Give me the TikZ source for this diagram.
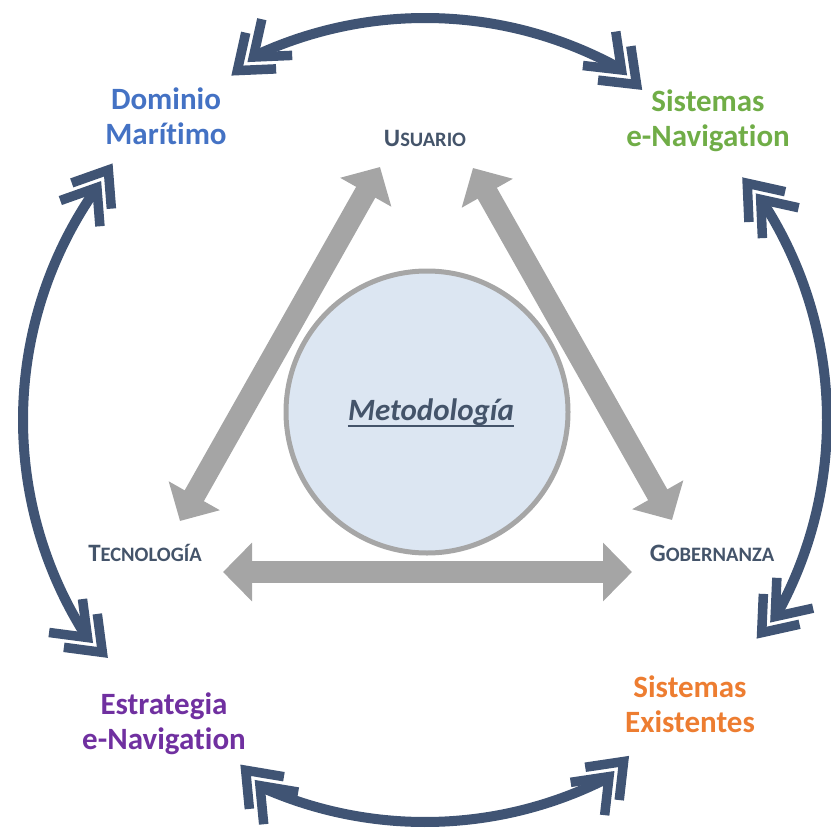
\documentclass[tikz,border=0pt]{standalone}
\usepackage{fontspec}
\setmainfont[Ligatures=CommonOff]{Carlito}
\usetikzlibrary{calc,arrows.meta}

\definecolor{slate}{HTML}{405474}
\definecolor{textgray}{HTML}{44546A}
\definecolor{arrowgray}{HTML}{A5A5A5}
\definecolor{ringgray}{HTML}{A6A6A6}
\definecolor{discfill}{HTML}{DCE6F2}
\definecolor{dblue}{HTML}{4472C4}
\definecolor{dgreen}{HTML}{70AD47}
\definecolor{dorange}{HTML}{ED7D31}
\definecolor{dpurple}{HTML}{7030A0}

% faked small capitals: large initial, smaller upper-case rest
\newcommand{\fakesc}[2]{{\fontsize{25}{28}\selectfont #1}{\fontsize{20.5}{24}\selectfont #2}}

% chevron geometry: half opening angle, arm length, arm thickness
\def\chB{37.5}
\def\chL{45}
\def\chT{9.5}
% one filled chevron with outer apex #1 pointing in direction #2
\newcommand{\chevshape}[2]{%
  \path (#1) coordinate (cvP);
  \fill[slate] (cvP)
    -- ($(cvP)+({#2+180-\chB}:\chL)$)
    -- ($(cvP)+({#2+180-\chB}:\chL)+({#2+270-\chB}:\chT)$)
    -- ($(cvP)+({#2+180}:{\chT/sin(\chB)})$)
    -- ($(cvP)+({#2+180+\chB}:\chL)+({#2+90+\chB}:\chT)$)
    -- ($(cvP)+({#2+180+\chB}:\chL)$)
    -- cycle;}
% double chevron head at the end #1 of a curved arrow, pointing in direction #2
\newcommand{\chevpair}[2]{%
  \chevshape{$(#1)+(#2:31)$}{#2}%
  \chevshape{$(#1)+(#2:10)$}{#2}}

\tikzset{
  outerlabel/.style={font=\bfseries\fontsize{31}{35}\selectfont, align=center, inner sep=0pt},
  innerlabel/.style={font=\bfseries, text=textgray, inner sep=0pt},
  grayarrow/.style={draw=arrowgray, line width=22pt,
    arrows={Triangle[width=57pt,length=29pt]-Triangle[width=57pt,length=29pt]}},
  cyclearc/.style={draw=slate, line width=10pt},
}

\begin{document}
\begin{tikzpicture}[x=1pt,y=-1pt]
\useasboundingbox (0,0) rectangle (830,832);

% centre of the outer cycle
\coordinate (C) at (425,420);
\def\R{402}

% ends of the four curved arrows
\coordinate (topL) at ($(C)+(-115:\R)$);
\coordinate (topR) at ($(C)+(-61:\R)$);
\coordinate (rgtT) at ($(C)+(-33:\R)$);
\coordinate (rgtB) at ($(C)+(29:\R)$);
\coordinate (botR) at ($(C)+(63:\R)$);
\coordinate (botL) at ($(C)+(114:\R)$);
\coordinate (lftB) at ($(C)+(147.5:\R)$);
\coordinate (lftT) at ($(C)+(-145:\R)$);

% outer cycle of curved double arrows
\draw[cyclearc] (topL) arc[start angle=-115, end angle=-61, radius=\R];
\draw[cyclearc] (rgtT) arc[start angle=-33, end angle=29, radius=\R];
\draw[cyclearc] (botR) arc[start angle=63, end angle=114, radius=\R];
\draw[cyclearc] (lftT) arc[start angle=-145, end angle=-212.5, radius=\R];

\chevpair{topL}{140}
\chevpair{topR}{44}
\chevpair{rgtT}{-130}
\chevpair{rgtB}{130}
\chevpair{botR}{-46}
\chevpair{botL}{-133}
\chevpair{lftB}{45}
\chevpair{lftT}{-57}

% central disc
\node[circle, draw=ringgray, line width=5pt, fill=discfill, minimum size=282pt, inner sep=0pt] (disc) at (427,412) {};
\node[font=\bfseries\itshape\fontsize{31}{36}\selectfont, text=textgray, inner sep=0pt] (met) at (431,412) {Metodología};
\draw[textgray, line width=2pt] ([yshift=-6pt]met.base west) -- ([yshift=-6pt]met.base east);

% arrow ends of the inner triangle
\coordinate (uL) at (380,167);
\coordinate (uR) at (473,168);
\coordinate (tB) at (180,521);
\coordinate (gB) at (672,520);
\coordinate (tH) at (223,572);
\coordinate (gH) at (632,572);

\draw[grayarrow] (uL) -- (tB);
\draw[grayarrow] (uR) -- (gB);
\draw[grayarrow] (tH) -- (gH);

% inner labels
\node[innerlabel] (usuario) at (425,138) {\fakesc{U}{SUARIO}};
\node[innerlabel] (tecno) at (145,553) {\fakesc{T}{ECNOLOGÍA}};
\node[innerlabel] (gober) at (712,553) {\fakesc{G}{OBERNANZA}};

% outer labels
\node[outerlabel, text=dblue] (dominio) at (166,116) {Dominio\\Marítimo};
\node[outerlabel, text=dgreen] (sisnav) at (708,121) {Sistemas\\e-Navigation};
\node[outerlabel, text=dorange] (sisexi) at (690,704) {Sistemas\\Existentes};
\node[outerlabel, text=dpurple] (estrat) at (164,724) {Estrategia\\e-Navigation};
\end{tikzpicture}
\end{document}
